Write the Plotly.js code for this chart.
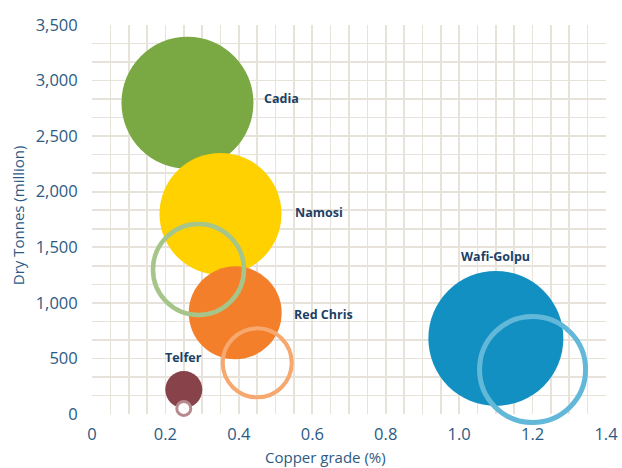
<!DOCTYPE html>
<html>
<head>
<meta charset="utf-8">
<script src="https://cdn.plot.ly/plotly-3.0.1.min.js"></script>
<style>html,body{margin:0;padding:0;background:#fff;}#chart{width:622px;height:468px;}</style>
</head>
<body>
<div id="chart"></div>
<script>
// Filled bubbles (named mines)
const mineNames = ["Cadia", "Namosi", "Red Chris", "Telfer", "Wafi-Golpu"];
const mineGrade = [0.26, 0.35, 0.39, 0.25, 1.10];
const mineTonnes = [2800, 1800, 910, 220, 680];
const mineSize = [132, 122, 93, 37, 135];
const mineColors = ["#7aa843", "#ffd100", "#f47f2a", "#88434a", "#1390c2"];

// Hollow rings
const ringGrade = [0.29, 0.45, 1.20, 0.25];
const ringTonnes = [1300, 460, 400, 50];
const ringSize = [91, 69, 106, 14];
const ringColors = ["#a6c58a", "#f7a86f", "#62b8d8", "#b88a8e"];
const ringFill = ["rgba(0,0,0,0)", "rgba(0,0,0,0)", "rgba(0,0,0,0)", "#ffffff"];

const xTicks = [0, 0.2, 0.4, 0.6, 0.8, 1.0, 1.2, 1.4];
const xTickText = ["0", "0.2", "0.4", "0.6", "0.8", "1.0", "1.2", "1.4"];
const yTicks = [0, 500, 1000, 1500, 2000, 2500, 3000, 3500];
const yTickText = ["0", "500", "1,000", "1,500", "2,000", "2,500", "3,000", "3,500"];

const xTitle = "Copper grade (%)";
const yTitle = "Dry Tonnes (million)";

// label offsets (pixels) relative to bubble centres
const labelShift = {
  "Cadia": {xs: 75, ys: 4, anchor: "left"},
  "Namosi": {xs: 72, ys: 1, anchor: "left"},
  "Red Chris": {xs: 57, ys: -2, anchor: "left"},
  "Telfer": {xs: 0, ys: 32, anchor: "center"},
  "Wafi-Golpu": {xs: 0, ys: 82, anchor: "center"}
};

const traces = [
  {
    type: "scatter", mode: "markers",
    x: mineGrade, y: mineTonnes,
    marker: {size: mineSize, sizemode: "diameter", color: mineColors, opacity: 1, line: {width: 0}},
    hoverinfo: "skip", cliponaxis: false
  },
  {
    type: "scatter", mode: "markers",
    x: ringGrade, y: ringTonnes,
    marker: {size: ringSize, sizemode: "diameter", color: ringFill, opacity: 1,
      line: {color: ringColors, width: [4.5, 4, 5, 3]}},
    hoverinfo: "skip", cliponaxis: false
  }
];

const font = "Open Sans, sans-serif";
const annotations = mineNames.map((n, i) => ({
  x: mineGrade[i], y: mineTonnes[i], xref: "x", yref: "y",
  text: "<b>" + n + "</b>", showarrow: false,
  xanchor: labelShift[n].anchor, yanchor: "middle",
  xshift: labelShift[n].xs, yshift: labelShift[n].ys,
  font: {family: font, size: 12.5, color: "#1d3f66"}
}));
annotations.push({
  xref: "paper", yref: "paper", x: 0.455, y: 0, xanchor: "center", yanchor: "top",
  yshift: -31, text: xTitle, showarrow: false,
  font: {family: font, size: 15, color: "#2b5b84"}
});
annotations.push({
  xref: "paper", yref: "paper", x: -0.144, y: 0.511, xanchor: "center", yanchor: "middle",
  textangle: -90, text: yTitle, showarrow: false,
  font: {family: font, size: 15, color: "#2b5b84"}
});

const grid = "#e8e3da";
const tickFont = {family: font, size: 16.5, color: "#2b5b84"};

const layout = {
  width: 622, height: 468,
  margin: {l: 92, r: 16, t: 25, b: 54},
  paper_bgcolor: "#fff", plot_bgcolor: "#fff",
  showlegend: false,
  xaxis: {
    range: [0, 1.4], tickvals: xTicks, ticktext: xTickText,
    showgrid: true, gridcolor: grid, gridwidth: 1.6,
    minor: {dtick: 0.05, showgrid: true, gridcolor: grid, gridwidth: 1.6},
    zeroline: false, showline: false,
    ticks: "outside", ticklen: 5, tickcolor: "rgba(0,0,0,0)",
    tickfont: tickFont
  },
  yaxis: {
    range: [0, 3500], tickvals: yTicks, ticktext: yTickText,
    showgrid: true, gridcolor: grid, gridwidth: 1.6,
    minor: {dtick: 500 / 3, showgrid: true, gridcolor: grid, gridwidth: 1.6},
    zeroline: false, showline: false,
    ticks: "outside", ticklen: 10, tickcolor: "rgba(0,0,0,0)",
    tickfont: tickFont
  },
  annotations: annotations
};

Plotly.newPlot("chart", traces, layout, {staticPlot: true, displayModeBar: false});
</script>
</body>
</html>
